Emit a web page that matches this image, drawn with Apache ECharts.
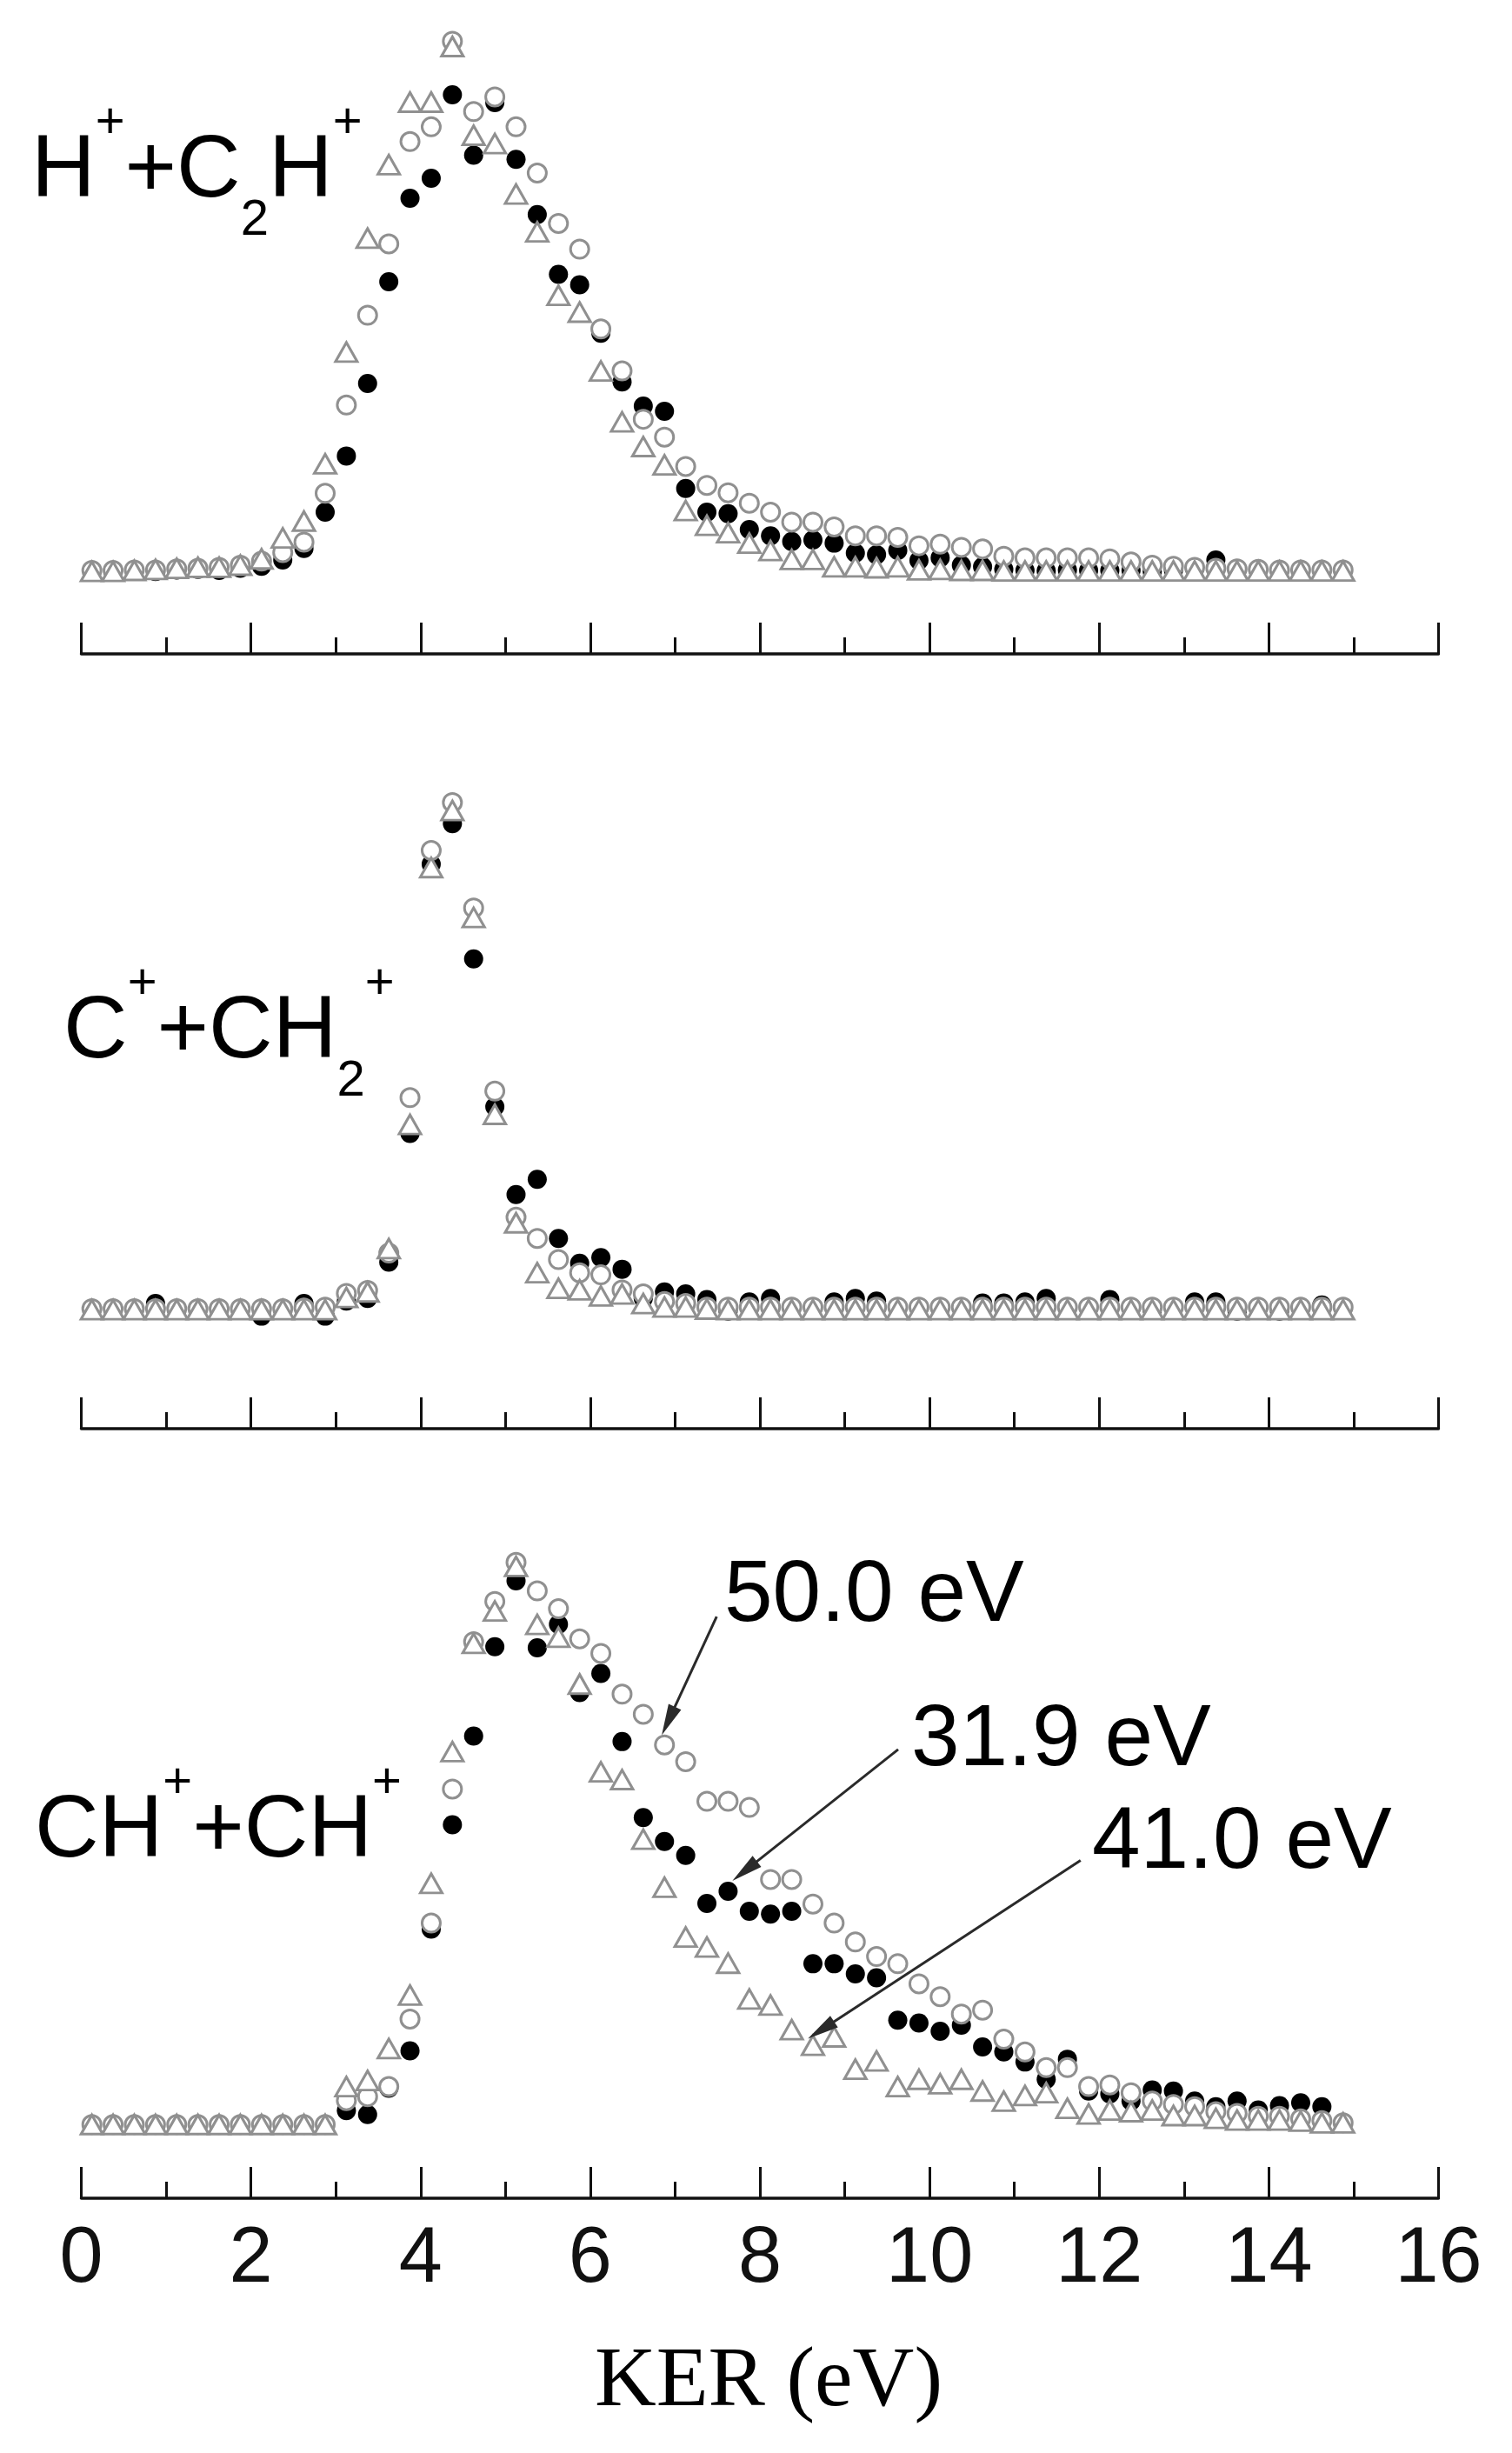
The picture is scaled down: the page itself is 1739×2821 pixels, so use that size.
<!DOCTYPE html>
<html lang="en">
<head>
    <meta charset="UTF-8">
    <script src="https://cdn.jsdelivr.net/npm/echarts@6/dist/echarts.min.js"></script>
    <title>KER distributions</title>
    <style>
        html, body { margin: 0; padding: 0; background: #ffffff; }
        #chart { width: 1739px; height: 2821px; }
    </style>
</head>
<body>
<div id="chart"></div>

<script>
    // KER bin centres (eV)
    const ker = [
        0.125, 0.375, 0.625, 0.875, 1.125, 1.375, 1.625, 1.875, 2.125, 2.375,
        2.625, 2.875, 3.125, 3.375, 3.625, 3.875, 4.125, 4.375, 4.625, 4.875,
        5.125, 5.375, 5.625, 5.875, 6.125, 6.375, 6.625, 6.875, 7.125, 7.375,
        7.625, 7.875, 8.125, 8.375, 8.625, 8.875, 9.125, 9.375, 9.625, 9.875,
        10.125, 10.375, 10.625, 10.875, 11.125, 11.375, 11.625, 11.875, 12.125, 12.375,
        12.625, 12.875, 13.125, 13.375, 13.625, 13.875, 14.125, 14.375, 14.625, 14.875
    ];

    // H+ + C2H+
    const hc2h_319 = [
        0.2, 0.2, 0.2, 0.0, 0.3, 0.4, 0.2, 0.6, 1.0, 2.2,
        4.4, 11.3, 22.0, 35.8, 55.2, 71.1, 74.9, 90.8, 79.3, 89.3,
        78.5, 68.0, 56.6, 54.6, 45.4, 36.1, 31.5, 30.5, 15.8, 11.3,
        11.0, 8.0, 6.8, 5.7, 6.0, 5.4, 3.5, 3.2, 4.0, 2.1,
        2.6, 1.2, 0.9, 0.4, 0.2, 0.1, 0.3, 0.2, 0.2, 0.2,
        0.0, 0.3, 0.5, 2.2, 0.3, 0.2, 0.2, 0.2, 0.2, 0.2
    ];
    const hc2h_500 = [
        0.2, 0.2, 0.3, 0.3, 0.5, 0.6, 0.8, 1.2, 2.0, 3.6,
        5.6, 14.9, 31.7, 48.8, 62.4, 81.9, 84.7, 101, 87.6, 90.4,
        84.7, 75.9, 66.3, 61.4, 46.2, 38.2, 29.0, 25.6, 20.0, 16.4,
        15.0, 13.0, 11.3, 9.4, 9.4, 8.5, 6.8, 6.8, 6.5, 4.9,
        5.2, 4.6, 4.3, 2.9, 2.6, 2.6, 2.6, 2.6, 2.4, 1.8,
        1.2, 1.0, 0.8, 0.6, 0.5, 0.4, 0.3, 0.3, 0.3, 0.3
    ];
    const hc2h_410 = [
        0.0, 0.0, 0.2, 0.4, 0.6, 0.8, 0.8, 1.2, 2.4, 6.4,
        9.6, 20.5, 41.8, 63.5, 77.5, 89.4, 89.4, 100, 83.1, 81.5,
        71.9, 64.7, 52.6, 49.4, 38.2, 28.5, 23.8, 20.3, 11.6, 8.8,
        7.4, 5.4, 4.0, 2.3, 2.3, 0.9, 0.9, 0.7, 0.9, 0.3,
        0.4, 0.2, 0.2, 0.1, 0.1, 0.1, 0.1, 0.1, 0.1, 0.1,
        0.1, 0.1, 0.1, 0.1, 0.1, 0.1, 0.1, 0.1, 0.1, 0.1
    ];

    // C+ + CH2+
    const cch2_319 = [
        0.3, 0.3, 0.3, 1.5, 0.3, 0.3, 0.3, 0.3, -1.0, 0.3,
        1.5, -1.0, 2.0, 2.5, 9.7, 35.2, 88.6, 96.6, 69.8, 40.5,
        23.1, 26.1, 14.4, 9.5, 10.6, 8.3, 2.5, 3.8, 3.4, 2.3,
        0.0, 1.8, 2.5, 0.8, 0.8, 1.8, 2.5, 2.0, 0.6, 0.6,
        0.5, 0.6, 1.6, 1.6, 1.8, 2.5, 0.6, 0.6, 2.3, 0.6,
        0.2, 0.6, 1.8, 1.8, 0.0, 0.6, 0.0, 0.6, 1.2, 0.6
    ];
    const cch2_500 = [
        0.5, 0.5, 0.5, 0.5, 0.5, 0.5, 0.5, 0.5, 0.5, 0.5,
        0.6, 0.8, 3.5, 4.1, 11.5, 42.3, 91.3, 100.8, 79.9, 43.6,
        18.6, 14.4, 10.2, 7.6, 7.2, 4.2, 3.4, 1.9, 1.5, 0.8,
        0.8, 0.8, 0.8, 0.8, 0.8, 0.8, 0.8, 0.8, 0.8, 0.8,
        0.8, 0.8, 0.8, 0.8, 0.8, 0.8, 0.8, 0.8, 0.8, 0.8,
        0.8, 0.8, 0.8, 0.8, 0.8, 0.8, 0.8, 0.8, 0.8, 0.8
    ];
    const cch2_410 = [
        0.3, 0.3, 0.3, 0.3, 0.3, 0.3, 0.3, 0.3, 0.3, 0.3,
        0.3, 0.3, 2.7, 3.8, 12.4, 37.0, 87.9, 99.2, 78.0, 39.0,
        17.5, 7.6, 4.5, 4.2, 3.0, 3.4, 1.5, 0.8, 0.8, 0.4,
        0.3, 0.3, 0.3, 0.3, 0.3, 0.3, 0.3, 0.3, 0.3, 0.3,
        0.3, 0.3, 0.3, 0.3, 0.3, 0.3, 0.3, 0.3, 0.3, 0.3,
        0.3, 0.3, 0.3, 0.3, 0.3, 0.3, 0.3, 0.3, 0.3, 0.3
    ];

    // CH+ + CH+
    const chch_319 = [
        0, 0, 0, 0, 0, 0, 0, 0, 0, 0,
        0, 0, 2.5, 1.8, 6.5, 13.2, 35.0, 53.7, 69.6, 85.6,
        97.4, 85.4, 89.6, 77.4, 80.8, 68.6, 55.0, 50.7, 48.2, 39.6,
        41.8, 38.2, 37.7, 38.2, 28.8, 28.8, 27.0, 26.3, 18.7, 18.2,
        16.7, 17.8, 13.9, 13.0, 11.2, 8.1, 11.7, 6.0, 5.5, 4.2,
        6.2, 6.0, 4.2, 3.2, 4.2, 2.6, 3.4, 3.9, 3.2, 0.3
    ];
    const chch_500 = [
        0, 0, 0, 0, 0, 0, 0, 0, 0, 0,
        0, 0, 4.3, 5.0, 6.8, 18.9, 36.1, 60.1, 86.5, 93.7,
        100.7, 95.6, 92.4, 87.0, 84.4, 77.1, 73.5, 68.0, 65.0, 57.9,
        57.9, 56.8, 43.9, 43.9, 39.5, 36.1, 32.7, 30.1, 28.8, 25.2,
        22.9, 19.8, 20.5, 15.3, 13.0, 10.2, 10.2, 6.8, 7.1, 5.7,
        4.2, 3.6, 3.2, 2.3, 2.0, 1.5, 1.5, 1.0, 0.7, 0.3
    ];
    const chch_410 = [
        0, 0, 0, 0, 0, 0, 0, 0, 0, 0,
        0, 0, 6.8, 7.9, 13.6, 23.2, 43.2, 66.8, 86.2, 92.0,
        100.0, 89.6, 87.3, 78.9, 63.2, 61.8, 51.1, 42.5, 33.6, 31.8,
        28.9, 22.5, 21.4, 17.0, 14.2, 15.7, 9.9, 11.4, 6.8, 8.1,
        7.3, 8.1, 6.0, 4.2, 5.2, 5.7, 2.9, 1.9, 2.6, 2.3,
        2.6, 1.6, 1.6, 1.1, 0.8, 0.8, 0.8, 0.6, 0.3, 0.3
    ];

    const panels = [
        { f: hc2h_319, o: hc2h_500, t: hc2h_410, ymin: -15.7, ymax: 108 },
        { f: cch2_319, o: cch2_500, t: cch2_410, ymin: -23.3, ymax: 110 },
        { f: chch_319, o: chch_500, t: chch_410, ymin: -13.2, ymax: 115 }
    ];

    const ink = '#111111';
    const grey = '#909090';

    function pts(vals) {
        return ker.map((x, i) => [x, vals[i]]);
    }

    const chart = echarts.init(document.getElementById('chart'), null, { renderer: 'canvas' });

    const grids = [
        { left: 93.5, width: 1561, top: 5.2, height: 746.8 },
        { left: 93.5, width: 1561, top: 869.5, height: 773.5 },
        { left: 93.5, width: 1561, top: 1705, height: 823 }
    ];

    const xAxes = panels.map((p, i) => ({
        gridIndex: i,
        type: 'value',
        min: 0,
        max: 16,
        interval: 2,
        axisLine: { show: true, onZero: false, lineStyle: { color: ink, width: 3.5 } },
        axisTick: { show: true, inside: true, length: 36, lineStyle: { color: ink, width: 3 } },
        minorTick: { show: true, splitNumber: 2, length: 19, lineStyle: { color: ink, width: 3 } },
        splitLine: { show: false },
        minorSplitLine: { show: false },
        axisLabel: {
            show: i === 2,
            margin: 26,
            fontSize: 90,
            fontFamily: 'Liberation Sans',
            color: '#111'
        }
    }));

    const yAxes = panels.map((p, i) => ({
        gridIndex: i,
        type: 'value',
        min: p.ymin,
        max: p.ymax,
        show: false
    }));

    const series = [];
    panels.forEach((p, i) => {
        // 31.9 eV - filled circles (underneath)
        series.push({
            type: 'scatter', xAxisIndex: i, yAxisIndex: i, z: 2, silent: true,
            data: pts(p.f), symbol: 'circle', symbolSize: 22,
            itemStyle: { color: '#000', opacity: 1 }
        });
        // 50.0 eV - open circles
        series.push({
            type: 'scatter', xAxisIndex: i, yAxisIndex: i, z: 3, silent: true,
            data: pts(p.o), symbol: 'circle', symbolSize: 21,
            itemStyle: { color: '#fff', borderColor: grey, borderWidth: 3, opacity: 1 }
        });
        // 41.0 eV - open triangles
        const tri = {
            type: 'scatter', xAxisIndex: i, yAxisIndex: i, z: 4, silent: true,
            data: pts(p.t), symbol: 'triangle', symbolSize: [25, 22],
            itemStyle: { color: '#fff', borderColor: grey, borderWidth: 3, opacity: 1 }
        };
        if (i === 2) {
            // arrows pointing from the energy labels to their data sets
            tri.markLine = {
                silent: true,
                animation: false,
                symbol: ['none', 'triangle'],
                symbolSize: [16, 36],
                label: { show: false },
                lineStyle: { color: '#2a2a2a', width: 3, type: 'solid', opacity: 1 },
                data: [
                    [{ coord: [7.49, 91.0], symbol: 'none' }, { coord: [6.92, 72.3], symbol: 'triangle', symbolSize: [16, 36] }],
                    [{ coord: [9.63, 67.2], symbol: 'none' }, { coord: [7.82, 45.4], symbol: 'triangle', symbolSize: [16, 36] }],
                    [{ coord: [11.78, 47.3], symbol: 'none' }, { coord: [8.72, 16.9], symbol: 'triangle', symbolSize: [16, 36] }]
                ]
            };
        }
        series.push(tri);
    });

    const sans = 'Liberation Sans';
    const richFormula = {
        m: { fontSize: 102, lineHeight: 170, fontFamily: sans, fill: '#000', color: '#000' },
        p: { fontSize: 58, lineHeight: 94, fontFamily: sans, verticalAlign: 'top', fill: '#000', color: '#000' },
        b: { fontSize: 58, lineHeight: 56, fontFamily: sans, verticalAlign: 'bottom', fill: '#000', color: '#000' }
    };

    function formula(text, x, y) {
        return {
            type: 'text', z: 10, silent: true,
            style: {
                text: text, x: x, y: y,
                rich: richFormula,
                fill: '#000',
                align: 'left', verticalAlign: 'middle',
                textAlign: 'left', textVerticalAlign: 'middle'
            }
        };
    }

    function note(text, x, y) {
        return {
            type: 'text', z: 10, silent: true,
            style: {
                text: text, x: x, y: y,
                fontSize: 100, fontFamily: sans, fill: '#000',
                align: 'left', verticalAlign: 'middle',
                textAlign: 'left', textVerticalAlign: 'middle'
            }
        };
    }

    const option = {
        animation: false,
        backgroundColor: '#ffffff',
        grid: grids,
        xAxis: xAxes,
        yAxis: yAxes,
        series: series,
        graphic: [
            formula('{m|H}{p|+}{m|+C}{b|2}{m|H}{p|+}', 36, 197.5),
            formula('{m|C}{p|+}{m|+CH}{b|2}{p|+}', 73, 1187.5),
            formula('{m|CH}{p|+}{m|+CH}{p|+}', 40, 2106.5),
            note('50.0 eV', 833, 1836),
            note('31.9 eV', 1048, 2002),
            note('41.0 eV', 1256, 2120),
            {
                type: 'text', z: 10, silent: true,
                style: {
                    text: 'KER (eV)', x: 884, y: 2740,
                    fontSize: 98, fontFamily: 'Liberation Serif', fill: '#000',
                    align: 'center', verticalAlign: 'middle',
                    textAlign: 'center', textVerticalAlign: 'middle'
                }
            }
        ]
    };

    chart.setOption(option);
</script>

</body>
</html>
